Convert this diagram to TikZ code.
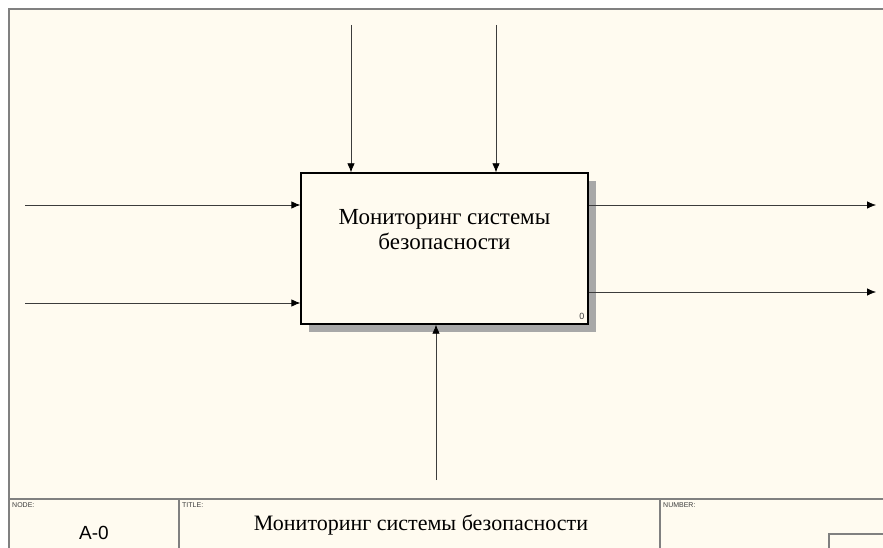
\documentclass[tikz,border=0pt]{standalone}
\usepackage{fontspec}
\setmainfont{Liberation Serif}
\setsansfont{Liberation Sans}
\usetikzlibrary{arrows.meta,positioning,shadows}
\definecolor{idefpaper}{RGB}{255,251,240}
\definecolor{idefframe}{RGB}{128,128,128}
\definecolor{idefline}{RGB}{60,60,60}
\definecolor{idefshadow}{RGB}{168,168,168}

\begin{document}
\begin{tikzpicture}[
  x=1pt, y=-1pt,
  funcbox/.style={rectangle, draw=black, line width=1.3pt, fill=idefpaper, minimum width=287pt, minimum height=151pt, inner sep=0pt,
    drop shadow={shadow xshift=8pt, shadow yshift=-8pt, fill=idefshadow, opacity=1}},
  flow/.style={-{Latex[length=9pt, width=7.5pt, color=black]}, draw=idefline, line width=0.8pt},
  frameline/.style={draw=idefframe, line width=1.8pt},
  tinylabel/.style={anchor=north west, inner sep=0pt, font=\sffamily\fontsize{7}{8}\selectfont, text=idefline},
]
  % Paper and frame
  \useasboundingbox (0,0) rectangle (883,548);
  \fill[idefpaper] (9,9) rectangle (883,548);
  \draw[frameline] (9,548) -- (9,9) -- (883,9);
  \draw[frameline] (9,499) -- (883,499);
  \draw[frameline] (179,499) -- (179,548);
  \draw[frameline] (660,499) -- (660,548);
  \draw[frameline] (883,534) -- (829,534) -- (829,548);

  % Function box
  \node[funcbox] (func) at (444.5,248.5) {};
  \node[align=center, inner sep=0pt, font=\fontsize{23}{25}\selectfont] (functext) at ([yshift=-57pt]func.north) {Мониторинг системы\\безопасности};
  \node[anchor=south east, inner sep=0pt, font=\sffamily\fontsize{9}{10}\selectfont, text=idefline] (funcnum) at ([xshift=-4pt, yshift=5pt]func.south east) {0};

  % Free ends of the arrows
  \coordinate (ctrlA) at (351,25);
  \coordinate (ctrlB) at (496,25);
  \coordinate (inA) at (25,205);
  \coordinate (inB) at (25,303);
  \coordinate (outA) at (876,205);
  \coordinate (outB) at (876,292);
  \coordinate (mech) at (436,480);

  % Controls
  \draw[flow] (ctrlA) -- (ctrlA |- func.north);
  \draw[flow] (ctrlB) -- (ctrlB |- func.north);
  % Inputs
  \draw[flow] (inA) -- (inA -| func.west);
  \draw[flow] (inB) -- (inB -| func.west);
  % Outputs
  \draw[flow] (outA -| func.east) -- (outA);
  \draw[flow] (outB -| func.east) -- (outB);
  % Mechanism
  \draw[flow] (mech) -- (mech |- func.south);

  % Title block
  \node[tinylabel] (nodelabel) at (12,502) {NODE:};
  \node[tinylabel] (titlelabel) at (182,502) {TITLE:};
  \node[tinylabel] (numberlabel) at (663,502) {NUMBER:};
  \node[font=\sffamily\fontsize{19}{22}\selectfont] (nodenum) at (94,533) {A-0};
  \node[font=\fontsize{22}{24}\selectfont] (titletext) at (421,525) {Мониторинг системы безопасности};
\end{tikzpicture}
\end{document}
